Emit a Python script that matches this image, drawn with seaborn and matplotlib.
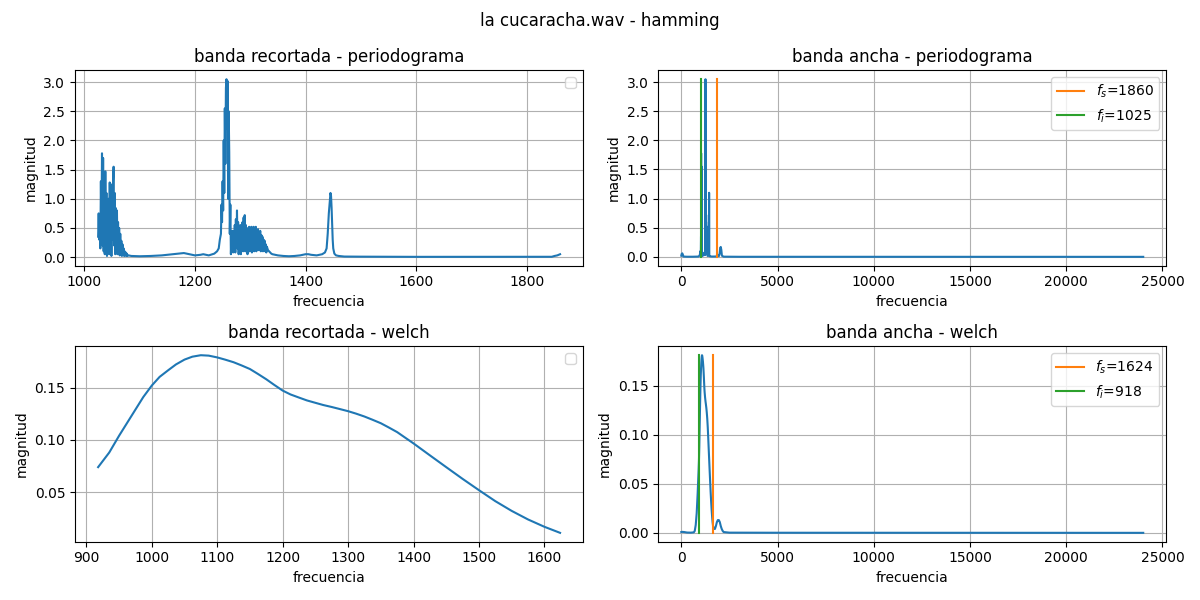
import numpy as np
import pandas as pd
import seaborn as sns
import matplotlib
matplotlib.use("Agg")
import matplotlib.pyplot as plt

# ---------------- data ----------------
# periodogram, cropped band (1025 - 1860 Hz)
band_freq = [1025, 1026, 1027, 1028, 1029, 1030, 1031, 1032, 1033, 1034, 1035, 1036, 1037, 1038, 1039,
             1040, 1041, 1042, 1043, 1044, 1045, 1046, 1047, 1048, 1049, 1050, 1051, 1052, 1053, 1054,
             1055, 1056, 1057, 1058, 1059, 1060, 1061, 1062, 1063, 1064, 1065, 1066, 1067, 1068, 1069,
             1070, 1071, 1072, 1073, 1074, 1075, 1076, 1077, 1078, 1080, 1085,
             1100, 1120, 1140, 1160, 1170, 1180, 1190, 1200, 1210, 1215, 1225, 1235, 1240, 1243, 1245,
             1247, 1248, 1249, 1250, 1251, 1252, 1253, 1254, 1255, 1256, 1257, 1258, 1259, 1260, 1261,
             1262, 1263, 1264, 1265, 1266, 1267, 1268, 1269, 1270, 1271, 1272, 1273, 1274, 1275, 1276,
             1277, 1278, 1279, 1280, 1281, 1282, 1283, 1284, 1285, 1286, 1287, 1288, 1289, 1290, 1291,
             1292, 1293, 1294, 1295, 1296, 1297, 1298, 1299, 1300, 1301, 1302, 1303, 1304, 1305, 1306,
             1307, 1308, 1309, 1310, 1311, 1312, 1313, 1314, 1315, 1316, 1317, 1318, 1319, 1320, 1321,
             1322, 1323, 1324, 1325, 1326, 1327, 1328, 1329, 1330, 1332, 1334, 1336, 1338, 1340, 1345,
             1350, 1360, 1370, 1380, 1390, 1400, 1405, 1410, 1420, 1430, 1435, 1438, 1440, 1442, 1444,
             1445, 1446, 1447, 1448, 1449, 1450, 1452, 1455, 1460, 1470, 1500, 1600, 1700, 1800, 1845,
             1850, 1855, 1860]
band_mag = [0.35, 0.75, 0.30, 0.70, 0.15, 1.30, 0.40, 1.78, 0.20, 1.70, 0.10, 1.20, 0.05, 1.47, 0.30,
            1.10, 0.02, 0.90, 0.25, 1.00, 0.05, 1.28, 0.40, 1.25, 0.02, 0.95, 0.30, 1.30, 1.55, 0.20,
            1.10, 0.05, 0.84, 0.15, 0.80, 0.05, 0.60, 0.08, 0.50, 0.03, 0.40, 0.05, 0.28, 0.02, 0.22,
            0.04, 0.15, 0.02, 0.10, 0.03, 0.08, 0.02, 0.06, 0.02, 0.03, 0.02,
            0.015, 0.02, 0.03, 0.05, 0.06, 0.07, 0.05, 0.03, 0.04, 0.05, 0.03, 0.06, 0.10, 0.15, 0.30,
            0.40, 0.90, 0.60, 1.30, 0.80, 2.00, 1.10, 2.55, 1.60, 2.90, 3.05, 2.20, 3.02, 1.00, 2.50,
            1.80, 0.40, 0.90, 0.05, 0.35, 0.10, 0.45, 0.08, 0.40, 0.12, 0.55, 0.08, 0.65, 0.20, 0.80,
            0.15, 0.60, 0.05, 0.45, 0.15, 0.55, 0.05, 0.50, 0.20, 0.60, 0.10, 0.68, 0.20, 0.72, 0.10,
            0.55, 0.25, 0.50, 0.05, 0.45, 0.15, 0.52, 0.10, 0.48, 0.20, 0.52, 0.08, 0.45, 0.18, 0.52,
            0.10, 0.50, 0.20, 0.52, 0.10, 0.45, 0.15, 0.48, 0.12, 0.40, 0.18, 0.45, 0.10, 0.38, 0.15,
            0.35, 0.10, 0.30, 0.12, 0.28, 0.10, 0.22, 0.08, 0.18, 0.12, 0.10, 0.08, 0.06, 0.05, 0.04,
            0.03, 0.02, 0.015, 0.02, 0.03, 0.05, 0.05, 0.04, 0.03, 0.05, 0.08, 0.15, 0.40, 0.75, 1.00,
            1.10, 1.05, 0.85, 0.55, 0.30, 0.15, 0.06, 0.03, 0.02, 0.01, 0.008, 0.005, 0.005, 0.005, 0.006,
            0.02, 0.03, 0.05]

# periodogram outside the band (full spectrum)
low_freq = [0, 20, 50, 80, 110, 300, 600, 900, 960, 1000, 1015, 1020]
low_mag = [0.02, 0.05, 0.06, 0.04, 0.005, 0.002, 0.002, 0.005, 0.03, 0.10, 0.05, 0.20]
high_freq = [1870, 1900, 1950, 1990, 2020, 2050, 2080, 2110, 2200, 3000, 10000, 24000]
high_mag = [0.03, 0.02, 0.01, 0.05, 0.15, 0.17, 0.12, 0.02, 0.003, 0.001, 0.0005, 0.0]

# welch, cropped band (918 - 1624 Hz)
wband_freq = [918, 935, 950, 960, 975, 987, 1000, 1012, 1025, 1037, 1050, 1062, 1075, 1087, 1100,
              1112, 1125, 1137, 1150, 1162, 1175, 1187, 1200, 1212, 1225, 1237, 1250, 1262, 1275,
              1287, 1300, 1312, 1325, 1337, 1350, 1362, 1375, 1387, 1400, 1425, 1450, 1475, 1500,
              1525, 1550, 1575, 1600, 1624]
wband_mag = [0.074, 0.088, 0.104, 0.114, 0.129, 0.141, 0.152, 0.1603, 0.1666, 0.1722, 0.1768, 0.1796,
             0.1810, 0.1806, 0.1789, 0.1768, 0.1743, 0.1713, 0.1678, 0.1632, 0.1580, 0.1527, 0.1472,
             0.1435, 0.1405, 0.1378, 0.1355, 0.1334, 0.1315, 0.1296, 0.1275, 0.1252, 0.1224, 0.1194,
             0.1160, 0.1120, 0.1075, 0.1023, 0.0967, 0.0853, 0.0740, 0.0628, 0.0520, 0.0415, 0.0322,
             0.0240, 0.0170, 0.0112]

# welch outside the band
wlow_freq = [0, 50, 150, 300, 500, 650, 700, 750, 800, 850, 900]
wlow_mag = [0.0008, 0.001, 0.0008, 0.0003, 0.0002, 0.0005, 0.002, 0.008, 0.02, 0.04, 0.064]
whigh_freq = [1650, 1700, 1750, 1800, 1850, 1900, 1950, 2000, 2050, 2100, 2150, 2200, 2500, 5000, 24000]
whigh_mag = [0.007, 0.004, 0.004, 0.007, 0.011, 0.013, 0.013, 0.011, 0.007, 0.004, 0.002, 0.0008,
             0.0002, 0.0001, 0.0]

f_s_per, f_i_per = 1860, 1025
f_s_welch, f_i_welch = 1624, 918

# ---------------- plot ----------------
full_per = pd.DataFrame({"f": low_freq + band_freq + high_freq,
                         "m": low_mag + band_mag + high_mag})
band_per = pd.DataFrame({"f": band_freq, "m": band_mag})
full_w = pd.DataFrame({"f": wlow_freq + wband_freq + whigh_freq,
                       "m": wlow_mag + wband_mag + whigh_mag})
band_w = pd.DataFrame({"f": wband_freq, "m": wband_mag})

fig, axes = plt.subplots(2, 2, figsize=(12, 6), dpi=100)
fig.suptitle("la cucaracha.wav - hamming")

blue = "C0"


def draw(ax, df, title):
    sns.lineplot(data=df, x="f", y="m", ax=ax, color=blue, estimator=None, sort=False, linewidth=1.5)
    ax.set_title(title)
    ax.set_xlabel("frecuencia")
    ax.set_ylabel("magnitud")
    ax.grid(True)


draw(axes[0, 0], band_per, "banda recortada - periodograma")
axes[0, 0].legend(loc="upper right")

draw(axes[0, 1], full_per, "banda ancha - periodograma")
top = max(band_mag)
axes[0, 1].plot([f_s_per, f_s_per], [0, top], color="C1", label=f"$f_s$={f_s_per}")
axes[0, 1].plot([f_i_per, f_i_per], [0, top], color="C2", label=f"$f_i$={f_i_per}")
axes[0, 1].legend(loc="upper right")

draw(axes[1, 0], band_w, "banda recortada - welch")
axes[1, 0].legend(loc="upper right")

draw(axes[1, 1], full_w, "banda ancha - welch")
topw = max(wband_mag)
axes[1, 1].plot([f_s_welch, f_s_welch], [0, topw], color="C1", label=f"$f_s$={f_s_welch}")
axes[1, 1].plot([f_i_welch, f_i_welch], [0, topw], color="C2", label=f"$f_i$={f_i_welch}")
axes[1, 1].legend(loc="upper right")

fig.tight_layout()
fig.savefig("out.png", dpi=100)
